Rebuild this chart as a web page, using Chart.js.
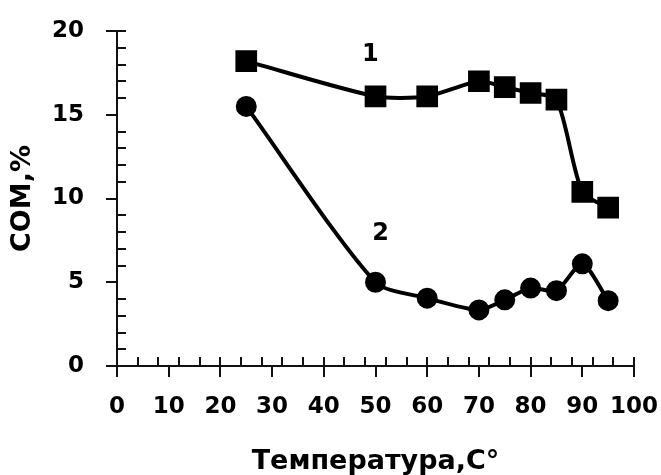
<!DOCTYPE html>
<html lang="ru">
<head>
<meta charset="UTF-8">
<title>СОМ</title>
<script src="https://cdn.jsdelivr.net/npm/chart.js"></script>
<style>
  html, body { margin: 0; padding: 0; background: #fff; }
  .grafico { width: 661px; height: 475px; }
</style>
</head>
<body>
<div class="grafico"><canvas id="myChart"></canvas></div>
<script>
  // данные с графика
  const temperatura = [25, 50, 60, 70, 75, 80, 85, 90, 95]
  const serie1 = [18.2, 16.1, 16.1, 17.0, 16.65, 16.3, 15.9, 10.4, 9.45]
  const serie2 = [15.5, 5.0, 4.05, 3.35, 3.95, 4.65, 4.5, 6.1, 3.9]
  const xTicks = [0, 10, 20, 30, 40, 50, 60, 70, 80, 90, 100]
  const yTicks = [0, 5, 10, 15, 20]

  const fonte = 'DejaVu Sans'

  // мелкие засечки внутрь и номера кривых
  const extras = {
    id: 'extras',
    beforeDatasetsDraw(chart) {
      const ctx = chart.ctx
      const x = chart.scales.x, y = chart.scales.y
      ctx.save()
      ctx.strokeStyle = '#111'
      ctx.lineWidth = 2
      ctx.beginPath()
      for (let v = 4; v <= 100; v += 4) {
        const px = Math.round(x.getPixelForValue(v))
        ctx.moveTo(px, y.bottom)
        ctx.lineTo(px, y.bottom - 9)
      }
      for (let v = 1; v <= 20; v++) {
        if (v % 5 === 0 && v !== 20) continue
        const py = Math.round(y.getPixelForValue(v))
        ctx.moveTo(x.left, py)
        ctx.lineTo(x.left + 9, py)
      }
      ctx.stroke()
      ctx.restore()
    },
    afterDatasetsDraw(chart) {
      const ctx = chart.ctx
      const x = chart.scales.x, y = chart.scales.y
      ctx.save()
      ctx.fillStyle = '#000'
      ctx.font = 'bold 24px "' + fonte + '"'
      ctx.textAlign = 'center'
      ctx.textBaseline = 'middle'
      ctx.fillText('1', x.getPixelForValue(49), y.getPixelForValue(18.6))
      ctx.fillText('2', x.getPixelForValue(51), y.getPixelForValue(7.9))
      ctx.restore()
    }
  }

  new Chart(document.getElementById('myChart'), {
    type: 'line',
    data: {
      datasets: [{
        label: '1',
        data: temperatura.map((t, i) => ({ x: t, y: serie1[i] })),
        borderColor: '#000',
        backgroundColor: '#000',
        borderWidth: 4,
        pointStyle: 'rect',
        pointRadius: 12.5,
        tension: 0.25
      }, {
        label: '2',
        data: temperatura.map((t, i) => ({ x: t, y: serie2[i] })),
        borderColor: '#000',
        backgroundColor: '#000',
        borderWidth: 4,
        pointStyle: 'circle',
        pointRadius: 8.5,
        tension: 0.25
      }]
    },
    options: {
      responsive: true,
      maintainAspectRatio: false,
      animation: false,
      layout: { padding: { top: 31, right: 27, left: 0, bottom: 0 } },
      plugins: { legend: { display: false }, tooltip: { enabled: false } },
      scales: {
        x: {
          type: 'linear',
          min: 0, max: 100,
          afterBuildTicks: s => { s.ticks = xTicks.map(v => ({ value: v })) },
          afterFit: s => { s.height = 109; s.paddingLeft = 0; s.paddingRight = 0 },
          grid: { drawOnChartArea: false, tickLength: 11, color: '#111', lineWidth: 2 },
          border: { color: '#111', width: 2 },
          ticks: { color: '#000', padding: 16, maxRotation: 0, font: { family: fonte, size: 23, weight: 'bold' } },
          title: { display: true, text: 'Температура,С°', color: '#000', padding: 0,
                   font: { family: fonte, size: 27, weight: 'bold', lineHeight: 1 } }
        },
        y: {
          min: 0, max: 20,
          afterBuildTicks: s => { s.ticks = yTicks.map(v => ({ value: v })) },
          afterFit: s => { s.width = 117; s.paddingTop = 0; s.paddingBottom = 0 },
          grid: { drawOnChartArea: false, tickLength: 11, color: '#111', lineWidth: 2 },
          border: { color: '#111', width: 2 },
          ticks: { color: '#000', padding: 22, font: { family: fonte, size: 23, weight: 'bold' } },
          title: { display: true, text: 'СОМ,%', color: '#000', padding: { top: 9, bottom: 0 },
                   font: { family: fonte, size: 27, weight: 'bold', lineHeight: 1 } }
        }
      }
    },
    plugins: [extras]
  })
</script>
</body>
</html>
